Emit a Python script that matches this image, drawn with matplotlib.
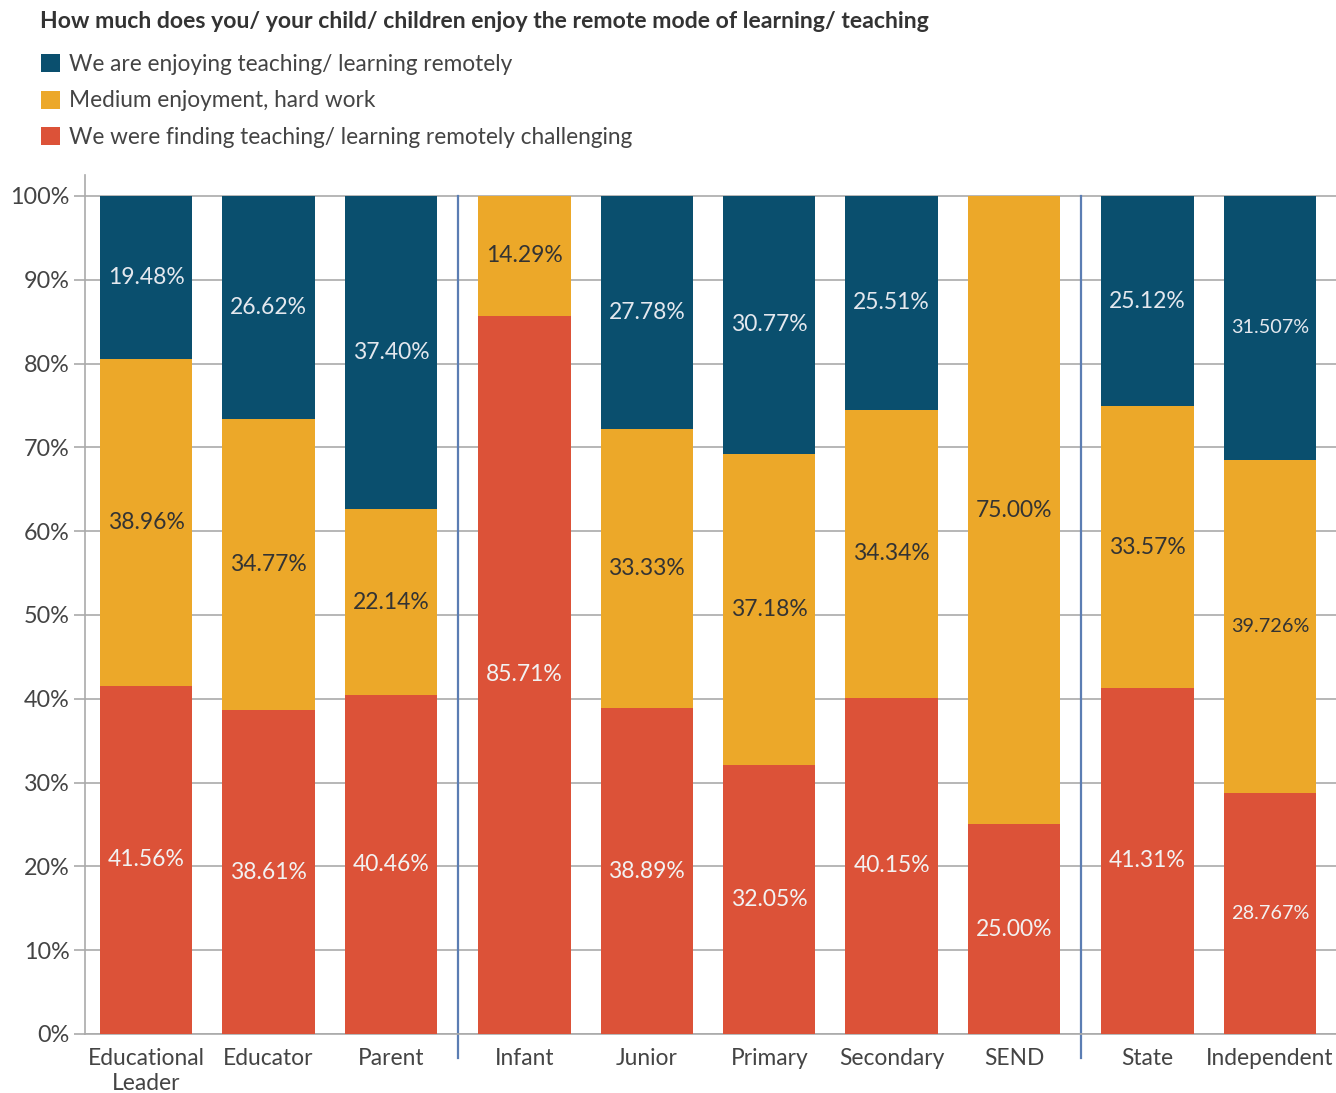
import matplotlib
matplotlib.use("Agg")
import matplotlib.pyplot as plt

plt.rcParams['font.family'] = ['Lato', 'DejaVu Sans']

categories = ["Educational\nLeader", "Educator", "Parent", "Infant", "Junior",
              "Primary", "Secondary", "SEND", "State", "Independent"]
groups = [0, 0, 0, 1, 1, 1, 1, 1, 2, 2]
challenging = [41.56, 38.61, 40.46, 85.71, 38.89, 32.05, 40.15, 25.00, 41.31, 28.767]
medium = [38.96, 34.77, 22.14, 14.29, 33.33, 37.18, 34.34, 75.00, 33.57, 39.726]
enjoying = [19.48, 26.62, 37.40, 0.0, 27.78, 30.77, 25.51, 0.0, 25.12, 31.507]
decimals = [2, 2, 2, 2, 2, 2, 2, 2, 2, 3]
series_names = ["We are enjoying teaching/ learning remotely",
                "Medium enjoyment, hard work",
                "We were finding teaching/ learning remotely challenging"]
yticks = [0, 10, 20, 30, 40, 50, 60, 70, 80, 90, 100]
title = "How much does you/ your child/ children enjoy the remote mode of learning/ teaching"

BLUE = "#0A4F6E"
ORANGE = "#ECA829"
RED = "#DC5238"
GAP = 0.09
W = 0.755

x = [i + g * GAP for i, g in enumerate(groups)]

fig = plt.figure(figsize=(13.36, 10.93), dpi=100)
ax = fig.add_axes([85 / 1336, 1 - 1034 / 1093, 1 - 85 / 1336, (1034 - 175) / 1093])

b_red = ax.bar(x, challenging, width=W, color=RED, zorder=3)
bottom2 = challenging
b_or = ax.bar(x, medium, width=W, bottom=bottom2, color=ORANGE, zorder=3)
bottom3 = [a + b for a, b in zip(challenging, medium)]
b_bl = ax.bar(x, enjoying, width=W, bottom=bottom3, color=BLUE, zorder=3)

def fmt(v, d):
    return f"{v:.{d}f}%"

for xi, c, m, e, d in zip(x, challenging, medium, enjoying, decimals):
    fs = 16.5 if d == 2 else 14.3
    if c > 0:
        ax.text(xi, c / 2, fmt(c, d), ha='center', va='center', color='#F2F2F2', fontsize=fs, zorder=4)
    if m > 0:
        ax.text(xi, c + m / 2, fmt(m, d), ha='center', va='center', color='#333333', fontsize=fs, zorder=4)
    if e > 0:
        ax.text(xi, c + m + e / 2, fmt(e, d), ha='center', va='center', color='#E4E8EE', fontsize=fs, zorder=4)

# group separators
for i in range(len(x) - 1):
    if groups[i] != groups[i + 1]:
        sx = (x[i] + x[i + 1]) / 2
        ax.plot([sx, sx], [-2.9, 100], color='#5B7DB3', lw=1.6, clip_on=False, zorder=2)

ax.set_xlim(x[0] - 0.5, x[-1] + 0.54)
ax.set_ylim(0, 102.5)
ax.set_yticks(yticks)
ax.set_yticklabels([f"{t}%" for t in yticks], fontsize=16.8, color='#444444')
ax.set_xticks(x)
ax.set_xticklabels(categories, fontsize=16.4, color='#444444', linespacing=1.25)
ax.tick_params(axis='x', length=0, pad=10)
ax.tick_params(axis='y', length=8, color='#AAAAAA', width=1.2, pad=3)
ax.grid(axis='y', color='#AAAAAA', lw=1.2, zorder=0)
for s in ['top', 'right']:
    ax.spines[s].set_visible(False)
for s in ['left', 'bottom']:
    ax.spines[s].set_color('#AAAAAA')
    ax.spines[s].set_linewidth(1.2)

fig.text(40 / 1336, 1 - 22 / 1093, title, fontsize=16.6, fontweight='bold', color='#333333',
         ha='left', va='center')

fig.legend([b_bl, b_or, b_red], series_names, loc='upper left',
           bbox_to_anchor=(41 / 1336, 1 - 54 / 1093), frameon=False, fontsize=16.3,
           handlelength=0.85, handleheight=0.85, handletextpad=0.4, labelspacing=0.68,
           labelcolor='#444444', borderpad=0, borderaxespad=0)

fig.savefig("out.png", dpi=100)
